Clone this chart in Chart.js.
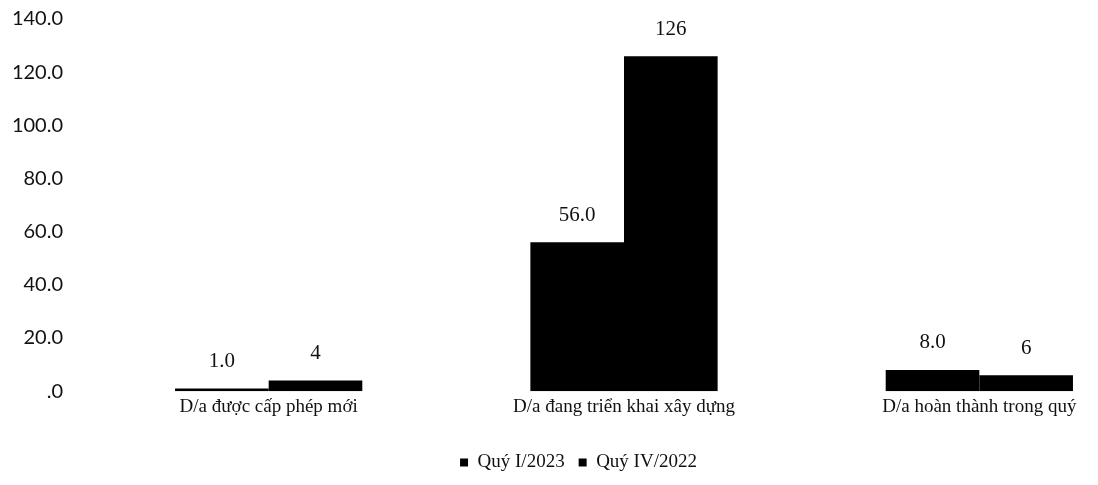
<!DOCTYPE html>
<html>
<head>
<meta charset="utf-8">
<script src="https://cdn.jsdelivr.net/npm/chart.js@4"></script>
<style>
  body { margin: 0; background: #fff; overflow: hidden; }
  #wrap { width: 1180px; height: 505px; margin-top: -13px; position: relative; }
</style>
</head>
<body>
<div id="wrap"><canvas id="duAnChart"></canvas></div>
<script>
const danhMuc = ['D/a được cấp phép mới', 'D/a đang triển khai xây dựng', 'D/a hoàn thành trong quý'];
const quyI2023 = [1, 56, 8];
const quyIV2022 = [4, 126, 6];
const nhanTrucY = ['.0', '20.0', '40.0', '60.0', '80.0', '100.0', '120.0', '140.0'];

// nhan gia tri tren dau cot
const nhanGiaTri = {
    id: 'nhanGiaTri',
    afterDatasetsDraw(chart) {
        const ctx = chart.ctx;
        ctx.save();
        ctx.font = '21px "Liberation Serif"';
        ctx.fillStyle = '#111';
        ctx.textAlign = 'center';
        ctx.textBaseline = 'middle';
        chart.data.datasets.forEach((ds, i) => {
            chart.getDatasetMeta(i).data.forEach((bar, j) => {
                const v = ds.data[j];
                const txt = i === 0 ? v.toFixed(1) : String(v);
                ctx.fillText(txt, bar.x, bar.y - 27);
            });
        });
        ctx.restore();
    }
};

new Chart(document.getElementById('duAnChart'), {
    type: 'bar',
    data: {
        labels: danhMuc,
        datasets: [{
            label: 'Quý I/2023',
            data: quyI2023,
            backgroundColor: '#000'
        }, {
            label: 'Quý IV/2022',
            data: quyIV2022,
            backgroundColor: '#000'
        }]
    },
    options: {
        responsive: true,
        maintainAspectRatio: false,
        animation: false,
        layout: { padding: { top: 0, right: 23, bottom: 10 } },
        datasets: {
            bar: { barPercentage: 1, categoryPercentage: 0.527 }
        },
        plugins: {
            legend: {
                position: 'bottom',
                labels: {
                    boxWidth: 8,
                    boxHeight: 8,
                    padding: 14,
                    color: '#111',
                    font: { family: '"Liberation Serif"', size: 19 }
                }
            },
            tooltip: { enabled: false }
        },
        scales: {
            x: {
                grid: { display: false },
                border: { display: false },
                afterFit(scale) { scale.height += 25; },
                ticks: {
                    padding: -4,
                    color: '#111',
                    font: { family: '"Liberation Serif"', size: 19 }
                }
            },
            y: {
                min: 0,
                max: 140,
                grid: { display: false },
                border: { display: false },
                afterFit(scale) { scale.width = 91; },
                ticks: {
                    stepSize: 20,
                    padding: 20,
                    color: '#111',
                    font: { family: 'Lato', size: 20 },
                    callback: (v) => nhanTrucY[v / 20]
                }
            }
        }
    },
    plugins: [nhanGiaTri]
});
</script>
</body>
</html>
